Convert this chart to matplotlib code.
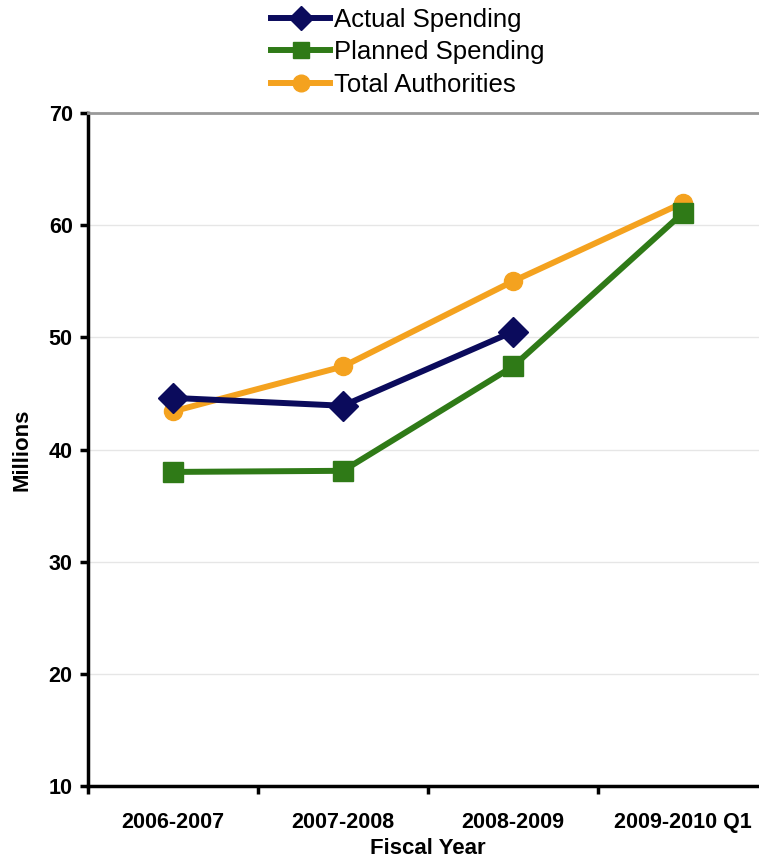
import matplotlib
matplotlib.use("Agg")
import matplotlib.pyplot as plt
from matplotlib.lines import Line2D

plt.rcParams['font.family'] = ['Liberation Sans', 'DejaVu Sans']

years = ["2006-2007", "2007-2008", "2008-2009", "2009-2010 Q1"]
actual = [44.6, 43.9, 50.5]
planned = [38.0, 38.1, 47.4, 61.1]
total = [43.4, 47.4, 55.0, 62.0]

c_actual = "#0b0b5c"
c_planned = "#2f7a17"
c_total = "#f4a21f"

fig = plt.figure(figsize=(7.59, 8.57), dpi=100)
W, H = 759, 857
ax = fig.add_axes([88 / W, 1 - 786 / H, 680 / W, (786 - 113) / H])

x = list(range(len(years)))
ax.plot(x, total, color=c_total, lw=4.3, marker="o", ms=13, zorder=3)
ax.plot(x, planned, color=c_planned, lw=4.3, marker="s", ms=14, zorder=4)
ax.plot(x[:len(actual)], actual, color=c_actual, lw=4.3, marker="D", ms=15, zorder=5)

ax.set_xlim(-0.5, 3.5)
ax.set_ylim(10, 70)
ax.set_yticks(range(10, 71, 10))
ax.set_xticks(x)
ax.set_xticklabels(years, fontsize=15.5, fontweight="bold")
ax.set_xticks([-0.5, 0.5, 1.5, 2.5], minor=True)
ax.tick_params(axis="x", which="major", length=0, pad=19)
ax.tick_params(axis="x", which="minor", length=6, width=2.5, direction="out")
ax.tick_params(axis="y", length=6, width=2.5, direction="out", labelsize=15.5, pad=5)
for lab in ax.get_yticklabels():
    lab.set_fontweight("bold")

ax.grid(axis="y", color="#e6e6e6", lw=1)
ax.set_axisbelow(True)
ax.spines["right"].set_visible(False)
ax.spines["top"].set_color("#999999")
ax.spines["top"].set_linewidth(2)
ax.spines["left"].set_linewidth(2.5)
ax.spines["bottom"].set_linewidth(2.5)

ax.set_xlabel("Fiscal Year", fontsize=16, fontweight="bold", labelpad=3)
ax.set_ylabel("Millions", fontsize=16, fontweight="bold", labelpad=12)

handles = [
    Line2D([], [], color=c_actual, lw=4.3, marker="D", ms=12),
    Line2D([], [], color=c_planned, lw=4.3, marker="s", ms=12),
    Line2D([], [], color=c_total, lw=4.3, marker="o", ms=12),
]
fig.legend(handles, ["Actual Spending", "Planned Spending", "Total Authorities"],
           loc="upper left", bbox_to_anchor=(271 / W, 1 - 8 / H), frameon=False,
           fontsize=18.5, handlelength=2.3, handletextpad=0.15, labelspacing=0.33,
           borderaxespad=0, borderpad=0)

fig.savefig("out.png", dpi=100)
